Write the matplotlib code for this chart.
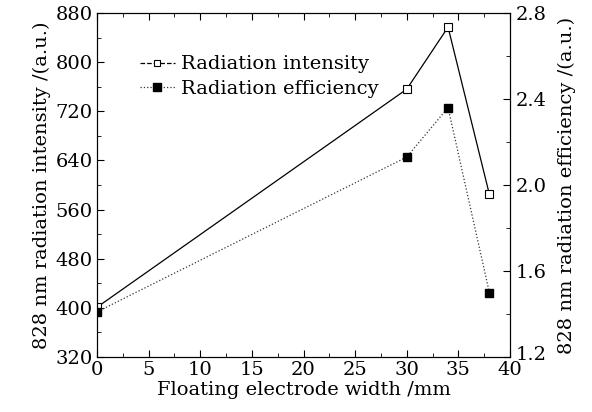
import numpy as np
import matplotlib.pyplot as plt
import matplotlib.transforms as mtrans
from matplotlib.ticker import MultipleLocator
from matplotlib.lines import Line2D

plt.rcParams['font.family'] = 'DejaVu Serif'

# data
width = [0, 30, 34, 38]
intensity = [401, 756, 857, 585]
efficiency = [1.41, 2.13, 2.36, 1.50]

fig = plt.figure(figsize=(5.92, 4.12), dpi=100)
ax = fig.add_axes([97/592, 1-357/412, (510-97)/592, (357-13)/412])
ax2 = ax.twinx()

ax.plot(width, intensity, '-', color='black', lw=0.9, marker='s',
        ms=5.5, mfc='white', mec='black', mew=0.8)
ax2.plot(width, efficiency, ':', color='#333333', lw=0.9, marker='s',
         ms=6, mfc='black', mec='black')

ax.set_xlim(0, 40)
ax.set_ylim(320, 880)
ax2.set_ylim(1.2, 2.8)

ax.xaxis.set_major_locator(MultipleLocator(5))
ax.xaxis.set_minor_locator(MultipleLocator(2.5))
ax.yaxis.set_major_locator(MultipleLocator(80))
ax.yaxis.set_minor_locator(MultipleLocator(40))
ax2.set_yticks([1.2, 1.6, 2.0, 2.4, 2.8])
ax2.yaxis.set_minor_locator(MultipleLocator(0.2))

fs = 14
ax.tick_params(which='both', direction='in', top=True, labelsize=fs, pad=3)
ax.tick_params(which='major', length=5)
ax.tick_params(which='minor', length=3)
ax2.tick_params(which='both', direction='in', labelsize=fs, pad=4)
ax2.tick_params(which='major', length=5)
ax2.tick_params(which='minor', length=3)

# the bottom right label sits a bit higher in the reference
lab = ax2.yaxis.get_major_ticks()[0].label2
lab.set_transform(lab.get_transform() + mtrans.ScaledTranslation(0, 4/100, fig.dpi_scale_trans))

ax.set_xlabel('Floating electrode width /mm', fontsize=fs, labelpad=1)
ax.set_ylabel('828 nm radiation intensity /(a.u.)', fontsize=fs, labelpad=3)
ax2.set_ylabel('828 nm radiation efficiency /(a.u.)', fontsize=fs, labelpad=8)

h1 = Line2D([], [], ls='--', color='black', lw=0.9, marker='s', ms=5,
            mfc='white', mec='black', mew=0.8)
h2 = Line2D([], [], ls=':', color='#333333', lw=0.9, marker='s', ms=6,
            mfc='black', mec='black')
ax.legend([h1, h2], ['Radiation intensity', 'Radiation efficiency'],
          loc='upper left', bbox_to_anchor=(0.08, 0.905), frameon=False,
          fontsize=fs, handlelength=1.8, handletextpad=0.3, labelspacing=0.35,
          borderpad=0)

fig.savefig('out.png', dpi=100)
